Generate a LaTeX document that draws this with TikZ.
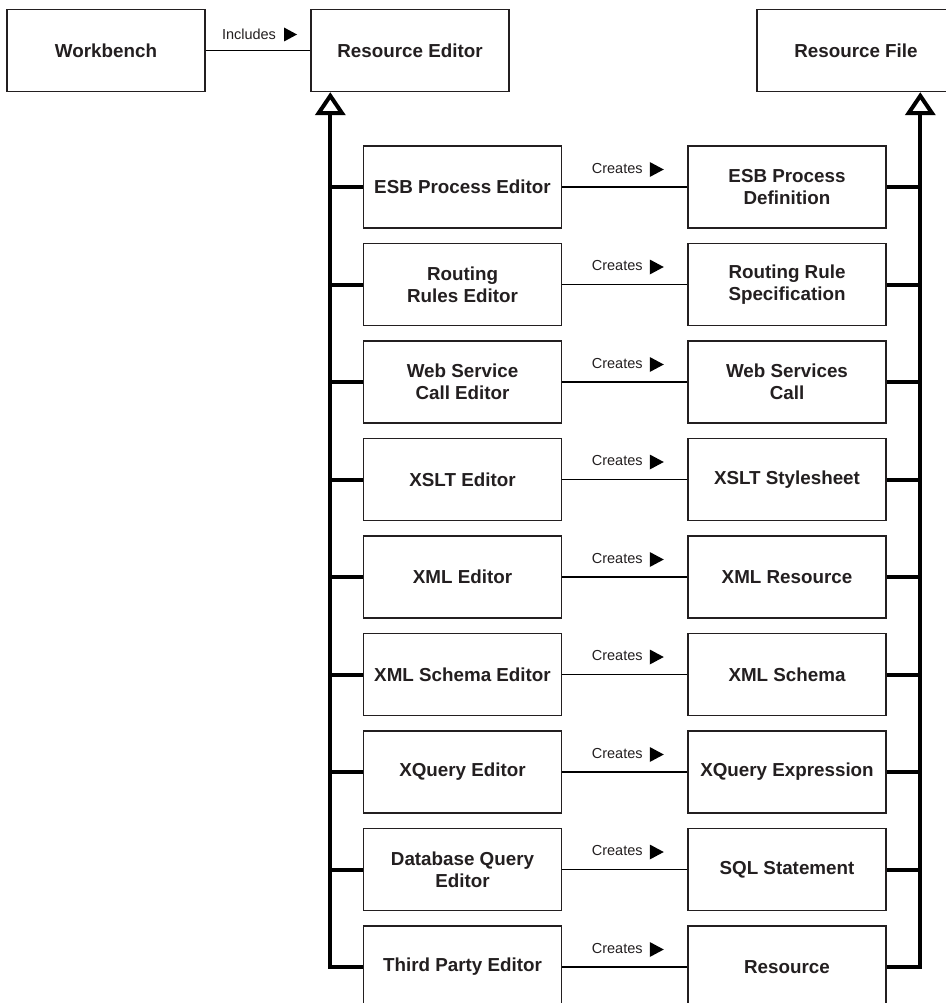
\documentclass[tikz,border=0pt]{standalone}
\usepackage{fontspec}
\setmainfont{Liberation Sans}
\usetikzlibrary{calc,arrows.meta}
\definecolor{ink}{HTML}{231F20}

\begin{document}
\begin{tikzpicture}[x=1pt,y=-1pt,
  box/.style={draw=ink, line width=1.4pt, fill=white, minimum width=198pt,
    minimum height=82pt, inner sep=2pt, align=center, text=ink,
    font=\fontsize{18.8}{22}\selectfont\bfseries},
  link/.style={draw=black, line width=1.3pt},
  bus/.style={draw=black, line width=4pt, line join=miter},
  gen/.style={bus, -{Triangle[open, length=23pt, width=30pt]}},
  lbl/.style={font=\fontsize{14.5}{16}\selectfont, text=ink, inner sep=0pt, anchor=base},
  pointer/.style={fill=black}]
\useasboundingbox (0,0) rectangle (945,1003);

% top row
\node[box] (WB) at (106,50.5) {Workbench};
\node[box] (RE) at (410,50.5) {Resource Editor};
\node[box] (RF) at (856,50.5) {Resource File};
\coordinate (ltop) at ($(RE.south west)+(20,0)$);
\coordinate (rtop) at ($(RF.south west)+(164,0)$);

% editors (left) and the resources they create (right)
\node[box] (e1) at (462.5,187)   {ESB Process Editor};
\node[box] (e2) at (462.5,284.5) {Routing\\Rules Editor};
\node[box] (e3) at (462.5,382)   {Web Service\\Call Editor};
\node[box] (e4) at (462.5,479.5) {XSLT Editor};
\node[box] (e5) at (462.5,577)   {XML Editor};
\node[box] (e6) at (462.5,674.5) {XML Schema Editor};
\node[box] (e7) at (462.5,772)   {XQuery Editor};
\node[box] (e8) at (462.5,869.5) {Database Query\\Editor};
\node[box] (e9) at (462.5,967)   {Third Party Editor};

\node[box] (r1) at (787,187)   {ESB Process\\Definition};
\node[box] (r2) at (787,284.5) {Routing Rule\\Specification};
\node[box] (r3) at (787,382)   {Web Services\\Call};
\node[box] (r4) at (787,479.5) {XSLT Stylesheet};
\node[box] (r5) at (787,577)   {XML Resource};
\node[box] (r6) at (787,674.5) {XML Schema};
\node[box] (r7) at (787,772)   {XQuery Expression};
\node[box] (r8) at (787,869.5) {SQL Statement};
\node[box] (r9) at (787,967)   {Resource};

% Includes association
\draw[link] (WB) -- (RE);
\coordinate (m0) at ($(WB.east)!0.5!(RE.west)$);
\node[lbl] (inc) at ($(m0)+(-9,-10.7)$) {Includes};
\fill[pointer] ($(m0)+(26,-23)$) -- ++(13,7) -- ++(-13,7) -- cycle;

% Creates associations
\foreach \i in {1,...,9} {
  \draw[link] (e\i) -- (r\i);
  \coordinate (m\i) at ($(e\i.east)!0.5!(r\i.west)$);
  \node[lbl] (c\i) at ($(m\i)+(-7.5,-13.7)$) {Creates};
  \fill[pointer] ($(m\i)+(25,-25)$) -- ++(14,7.5) -- ++(-14,7.5) -- cycle;
}

% generalisation buses
\draw[gen] (e9.west) -| (ltop);
\draw[gen] (r9.east) -| (rtop);
\foreach \i in {1,...,8} {
  \draw[bus] (e\i.west) -- (e\i.west -| ltop);
  \draw[bus] (r\i.east) -- (r\i.east -| rtop);
}
\end{tikzpicture}
\end{document}
